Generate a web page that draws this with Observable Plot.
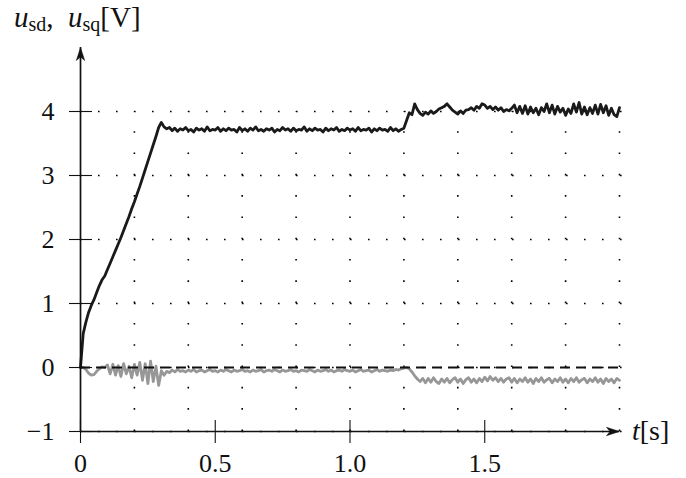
<!DOCTYPE html>
<html>
<head>
<meta charset="utf-8">
<script src="https://cdn.jsdelivr.net/npm/d3@7"></script>
<script src="https://cdn.jsdelivr.net/npm/@observablehq/plot@0.6"></script>
<style>
  html, body { margin: 0; padding: 0; background: #fff; }
  svg text { font-family: "Liberation Serif", "DejaVu Serif", serif; }
</style>
</head>
<body>
<div id="chart"></div>
<script>
// sample step of the recorded signals [s]
const dt = 0.01;

// u_sq (black) [V], sampled every 0.01 s from 0 to 2.00 s
const usq = [
  0, 0.53, 0.71, 0.86, 0.97, 1.06, 1.17, 1.28, 1.37, 1.43,
  1.53, 1.63, 1.73, 1.83, 1.93, 2.03, 2.14, 2.25, 2.36, 2.48,
  2.59, 2.71, 2.83, 2.96, 3.09, 3.22, 3.35, 3.48, 3.61, 3.75,
  3.83, 3.76, 3.73, 3.75, 3.70, 3.74, 3.69, 3.73, 3.71, 3.75,
  3.70, 3.72, 3.68, 3.74, 3.71, 3.73, 3.69, 3.76, 3.70, 3.72,
  3.71, 3.75, 3.69, 3.73, 3.70, 3.74, 3.71, 3.72, 3.68, 3.75,
  3.70, 3.73, 3.69, 3.74, 3.71, 3.76, 3.70, 3.72, 3.69, 3.73,
  3.71, 3.74, 3.68, 3.72, 3.70, 3.75, 3.71, 3.73, 3.69, 3.74,
  3.70, 3.72, 3.71, 3.76, 3.69, 3.73, 3.70, 3.74, 3.71, 3.72,
  3.68, 3.74, 3.70, 3.73, 3.71, 3.75, 3.69, 3.72, 3.70, 3.74,
  3.71, 3.73, 3.69, 3.75, 3.70, 3.72, 3.71, 3.74, 3.68, 3.73,
  3.70, 3.74, 3.71, 3.72, 3.69, 3.75, 3.70, 3.73, 3.69, 3.72,
  3.74, 3.86, 3.98, 3.95, 4.12, 4.03, 3.97, 3.94, 3.99, 3.96,
  4.01, 3.97, 4.00, 4.04, 4.06, 4.08, 4.12, 4.07, 4.02, 3.99,
  3.96, 4.01, 3.97, 4.02, 4.03, 4.06, 4.02, 4.08, 4.05, 4.12,
  4.10, 4.05, 4.08, 4.03, 4.07, 4.02, 4.06, 4.00, 4.03, 4.01,
  4.05, 4.10, 3.98, 4.08, 3.97, 4.09, 3.96, 4.07, 3.98, 4.05,
  3.95, 4.06, 4.00, 4.12, 3.98, 4.10, 3.96, 4.08, 3.99, 4.05,
  3.94, 4.04, 3.97, 4.12, 3.99, 4.14, 3.96, 4.07, 3.95, 4.06,
  3.97, 4.10, 3.96, 4.11, 3.98, 4.09, 3.94, 4.05, 3.95, 3.92,
  4.06
];

// u_sd (grey) [V], same sampling
const usd = [
  0, 0.00, -0.03, -0.09, -0.12, -0.11, -0.06, -0.02, 0.01, 0.00,
  0.04, -0.10, 0.05, -0.12, 0.03, -0.14, 0.06, -0.10, 0.02, -0.16,
  0.05, -0.12, 0.08, -0.20, 0.06, -0.25, 0.10, -0.22, 0.02, -0.28,
  -0.05, -0.12, -0.06, -0.08, -0.04, -0.07, -0.03, -0.06, -0.05, -0.07,
  -0.04, -0.06, -0.03, -0.07, -0.05, -0.04, -0.07, -0.05, -0.03, -0.06,
  -0.05, -0.07, -0.04, -0.06, -0.03, -0.05, -0.07, -0.04, -0.06, -0.05,
  -0.03, -0.06, -0.05, -0.07, -0.04, -0.06, -0.05, -0.03, -0.07, -0.05,
  -0.04, -0.06, -0.03, -0.05, -0.07, -0.04, -0.06, -0.05, -0.03, -0.06,
  -0.05, -0.07, -0.04, -0.05, -0.06, -0.03, -0.05, -0.07, -0.04, -0.06,
  -0.05, -0.03, -0.06, -0.04, -0.07, -0.05, -0.04, -0.06, -0.03, -0.05,
  -0.06, -0.04, -0.07, -0.05, -0.03, -0.06, -0.05, -0.04, -0.07, -0.05,
  -0.03, -0.06, -0.04, -0.05, -0.06, -0.04, -0.05, -0.03, -0.04, -0.02,
  -0.01, 0.00, -0.02, -0.07, -0.13, -0.18, -0.22, -0.17, -0.24, -0.17,
  -0.23, -0.16, -0.22, -0.25, -0.18, -0.23, -0.17, -0.24, -0.19, -0.16,
  -0.23, -0.18, -0.25, -0.19, -0.16, -0.23, -0.18, -0.24, -0.17, -0.22,
  -0.15, -0.21, -0.14, -0.20, -0.16, -0.22, -0.17, -0.23, -0.18, -0.16,
  -0.23, -0.17, -0.24, -0.18, -0.22, -0.16, -0.23, -0.18, -0.25, -0.17,
  -0.22, -0.16, -0.23, -0.19, -0.17, -0.24, -0.18, -0.22, -0.16, -0.23,
  -0.18, -0.24, -0.17, -0.22, -0.16, -0.23, -0.19, -0.17, -0.24, -0.18,
  -0.22, -0.16, -0.23, -0.18, -0.25, -0.17, -0.22, -0.18, -0.24, -0.17,
  -0.20
];

// reference (dashed) value for u_sd
const usdRef = [0];

// axis ticks and labels
const xTicks = [0, 0.5, 1.0, 1.5];
const xTickLabels = ["0", "0.5", "1.0", "1.5"];
const yTicks = [-1, 0, 1, 2, 3, 4];
const yTickLabels = ["\u22121", "0", "1", "2", "3", "4"];

// dotted grid
const gridX = [0.2, 0.4, 0.6, 0.8, 1.0, 1.2, 1.4, 1.6, 1.8, 2.0];
const gridY = [-1, 0, 1, 2, 3, 4];

const xMin = 0, xMax = 2.0, gridXEnd = 2.03;
const yMin = -1, yMax = 4, yAxisTop = 5.0;

const tSq = usq.map((v, i) => ({t: i * dt, v}));
const tSd = usd.map((v, i) => ({t: i * dt, v}));

// custom symbols
const stealth = {
  draw(ctx) {
    ctx.moveTo(0, 0);
    ctx.lineTo(-13, -4.2);
    ctx.lineTo(-9.5, 0);
    ctx.lineTo(-13, 4.2);
    ctx.closePath();
  }
};
const vTick = { draw(ctx) { ctx.moveTo(0, -11.5); ctx.lineTo(0, 11.5); } };
const hTick = { draw(ctx) { ctx.moveTo(-11.5, 0); ctx.lineTo(11.5, 0); } };

const FONT = "Liberation Serif";
const FS = 26;

const chart = Plot.plot({
  width: 686,
  height: 478,
  marginLeft: 80,
  marginRight: 67,
  marginTop: 111,
  marginBottom: 47,
  x: {domain: [xMin, xMax], axis: null},
  y: {domain: [yMin, yMax], axis: null},
  style: {background: "white", fontFamily: FONT},
  marks: [
    // dotted grid
    Plot.ruleY(gridY, {x1: xMin, x2: gridXEnd, stroke: "#000", strokeWidth: 1.6, strokeDasharray: "1.6,16.4"}),
    Plot.ruleX(gridX, {y1: yMin, y2: yMax, stroke: "#000", strokeWidth: 1.6, strokeDasharray: "1.6,19.7"}),
    // u_sd
    Plot.line(tSd, {x: "t", y: "v", stroke: "#979797", strokeWidth: 2.8}),
    // reference dashed line
    Plot.ruleY(usdRef, {x1: xMin, x2: xMax, stroke: "#111", strokeWidth: 1.8, strokeDasharray: "10,6"}),
    // u_sq
    Plot.line(tSq, {x: "t", y: "v", stroke: "#1a1a1a", strokeWidth: 2.8}),
    // axes
    Plot.ruleY([yMin], {x1: xMin, x2: xMax, stroke: "#111", strokeWidth: 1.7}),
    Plot.ruleX([xMin], {y1: yMin, y2: yAxisTop, stroke: "#111", strokeWidth: 1.7}),
    // ticks
    Plot.dot(xTicks, {x: d => d, y: yMin, symbol: vTick, stroke: "#111", fill: "none", strokeWidth: 1.1}),
    Plot.dot(yTicks, {x: xMin, y: d => d, symbol: hTick, stroke: "#111", fill: "none", strokeWidth: 1.1}),
    // arrow heads
    Plot.dot([{x: xMax, y: yMin}], {x: "x", y: "y", symbol: stealth, fill: "#111", stroke: "#111", strokeWidth: 0.5}),
    Plot.dot([{x: xMin, y: yAxisTop}], {x: "x", y: "y", symbol: stealth, rotate: -90, fill: "#111", stroke: "#111", strokeWidth: 0.5}),
    // tick labels
    Plot.text(xTicks, {x: d => d, y: yMin, text: (d, i) => xTickLabels[i], dy: 32, fontSize: FS, fill: "#111", fontFamily: FONT}),
    Plot.text(yTicks, {x: xMin, y: d => d, text: (d, i) => yTickLabels[i], dx: -26, textAnchor: "end", fontSize: FS, fill: "#111", fontFamily: FONT})
  ]
});

document.getElementById("chart").appendChild(chart);

// axis titles with subscripts
const svg = d3.select(chart);
const title = svg.append("text")
  .attr("x", 14).attr("y", 27)
  .attr("text-anchor", "start")
  .attr("font-size", 29).attr("fill", "#111")
  .attr("font-family", FONT);
title.append("tspan").attr("font-style", "italic").text("u");
title.append("tspan").attr("font-size", 20).attr("dy", 4).text("sd");
title.append("tspan").attr("dy", -4).text(",\u2002");
title.append("tspan").attr("font-style", "italic").text("u");
title.append("tspan").attr("font-size", 20).attr("dy", 4).text("sq");
title.append("tspan").attr("dy", -4).text("[V]");

const xlab = svg.append("text")
  .attr("x", 632).attr("y", 440)
  .attr("text-anchor", "start")
  .attr("font-size", 28).attr("fill", "#111")
  .attr("font-family", FONT);
xlab.append("tspan").attr("font-style", "italic").text("t");
xlab.append("tspan").text("[s]");
</script>
</body>
</html>
